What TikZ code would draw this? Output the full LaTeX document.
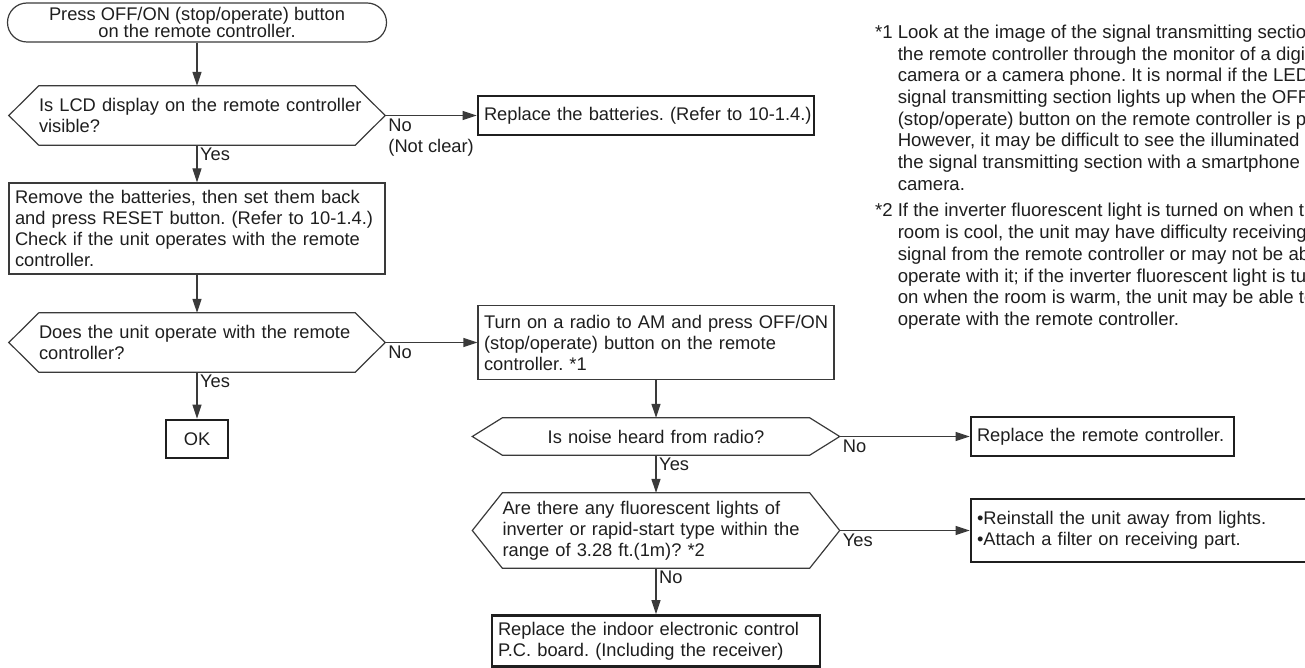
\documentclass[tikz,border=0pt]{standalone}
\usepackage{fontspec}
\setmainfont{Liberation Sans}
\usetikzlibrary{arrows.meta,calc}
\definecolor{lc}{HTML}{3A3A3A}
\definecolor{tc}{HTML}{1E1E1E}
\newcommand\oneline[1]{\mbox{#1}}
\begin{document}
\frenchspacing
\begin{tikzpicture}[x=1pt,y=-1pt,
  every node/.style={text=tc, font=\frenchspacing\fontsize{18.3}{21}\selectfont},
  thinbox/.style={draw=lc, line width=1.2pt, rectangle, inner xsep=6pt, inner ysep=0pt, align=left},
  thickbox/.style={draw=black!88, line width=2.6pt, rectangle, inner xsep=6pt, inner ysep=0pt, align=left},
  hexnode/.style={draw=none, rectangle, inner sep=0pt},
  hexline/.style={draw=lc, line width=1.2pt, line join=miter},
  arr/.style={draw=lc, line width=1.2pt, -{Triangle[length=14pt,width=9pt]}},
  lab/.style={anchor=north west, inner sep=0pt, align=left},
]
\useasboundingbox (0,0) rectangle (1305,668);
\clip (0,0) rectangle (1305,668);

% start terminal
\node[thinbox, rounded corners=19.5pt, minimum width=379pt, minimum height=39pt, align=center,
      font=\frenchspacing\fontsize{18.3}{17.5}\selectfont] (T) at (197,22.5)
  {Press OFF/ON (stop/operate) button\\on the remote controller.};

% decision 1
\node[hexnode, minimum width=316pt, minimum height=59pt, text width=316pt, align=left] (d1) at (197,115.5)
  {\oneline{Is LCD display on the remote controller}\\\oneline{visible?}};
\draw[hexline] (d1.north west) -- (d1.north east) -- ($(d1.east)+(30,0)$) coordinate (d1R)
  -- (d1.south east) -- (d1.south west) -- ($(d1.west)+(-30,0)$) -- cycle;

\node[thickbox, minimum height=39pt, text width=324pt] (B1) at (646,115.5)
  {\oneline{Replace the batteries. (Refer to 10-1.4.)}};

\node[thinbox, minimum height=91pt, text width=364pt] (B2) at (197,228.5)
  {\oneline{Remove the batteries, then set them back}\\\oneline{and press RESET button. (Refer to 10-1.4.)}\\\oneline{Check if the unit operates with the remote}\\\oneline{controller.}};

% decision 2
\node[hexnode, minimum width=316pt, minimum height=59pt, text width=316pt, align=left] (d2) at (197,342.5)
  {\oneline{Does the unit operate with the remote}\\\oneline{controller?}};
\draw[hexline] (d2.north west) -- (d2.north east) -- ($(d2.east)+(30,0)$) coordinate (d2R)
  -- (d2.south east) -- (d2.south west) -- ($(d2.west)+(-30,0)$) -- cycle;

\node[thickbox, align=center, minimum width=62pt, minimum height=38pt] (OK) at (197,439) {OK};

\node[thinbox, minimum height=74pt, text width=344pt] (B3) at (656,342.5)
  {\oneline{Turn on a radio to AM and press OFF/ON}\\\oneline{(stop/operate) button on the remote}\\\oneline{controller. *1}};

% decision 3
\node[hexnode, minimum width=307pt, minimum height=37pt, text width=307pt, align=center] (d3) at (656,436.5)
  {Is noise heard from radio?};
\draw[hexline] (d3.north west) -- (d3.north east) -- ($(d3.east)+(30,0)$) coordinate (d3R)
  -- (d3.south east) -- (d3.south west) -- ($(d3.west)+(-30,0)$) -- cycle;

\node[thickbox, minimum height=39pt, text width=251pt] (B4) at (1102.5,436.5)
  {\oneline{Replace the remote controller.}};

% decision 4
\node[hexnode, minimum width=307pt, minimum height=75pt, text width=307pt, align=left] (d4) at (656,530.5)
  {\oneline{Are there any fluorescent lights of}\\\oneline{inverter or rapid-start type within the}\\\oneline{range of 3.28 ft.(1m)? *2}};
\draw[hexline] (d4.north west) -- (d4.north east) -- ($(d4.east)+(30,0)$) coordinate (d4R)
  -- (d4.south east) -- (d4.south west) -- ($(d4.west)+(-30,0)$) -- cycle;

\node[thickbox, minimum height=63pt, text width=337pt] (B5) at (1145.5,530.5)
  {\oneline{•Reinstall the unit away from lights.}\\\oneline{•Attach a filter on receiving part.}};

\node[thickbox, minimum height=51pt, text width=316pt] (B6) at (656,641)
  {\oneline{Replace the indoor electronic control}\\\oneline{P.C. board. (Including the receiver)}};

% connectors
\draw[arr] (T.south) -- (d1.north);
\draw[arr] (d1R) -- (B1.west);
\draw[arr] (d1.south) -- (B2.north);
\draw[arr] (B2.south) -- (d2.north);
\draw[arr] (d2R) -- (B3.west);
\draw[arr] (d2.south) -- (OK.north);
\draw[arr] (B3.south) -- (d3.north);
\draw[arr] (d3R) -- (B4.west);
\draw[arr] (d3.south) -- (d4.north);
\draw[arr] (d4R) -- (B5.west);
\draw[arr] (d4.south) -- (B6.north);

% labels
\node[lab] (l1) at ($(d1R)+(3,3)$) {No\\(Not clear)};
\node[lab] (l2) at ($(d1.south)+(3,3)$) {Yes};
\node[lab] (l3) at ($(d2R)+(3,3)$) {No};
\node[lab] (l4) at ($(d2.south)+(3,3)$) {Yes};
\node[lab] (l5) at ($(d3R)+(3,3)$) {No};
\node[lab] (l6) at ($(d3.south)+(3,3)$) {Yes};
\node[lab] (l7) at ($(d4R)+(3,3)$) {Yes};
\node[lab] (l8) at ($(d4.south)+(3,3)$) {No};

% notes
\node[anchor=north west, inner sep=0pt, font=\frenchspacing\fontsize{18.6}{21.7}\selectfont] (notes) at (875,23) {%
\begin{tabular}{@{}l@{\hspace{5pt}}l@{}}
*1 & Look at the image of the signal transmitting section\\
   & the remote controller through the monitor of a digital\\
   & camera or a camera phone. It is normal if the LED\\
   & signal transmitting section lights up when the OFF/ON\\
   & (stop/operate) button on the remote controller is pressed.\\
   & However, it may be difficult to see the illuminated\\
   & the signal transmitting section with a smartphone\\
   & camera.\\[5pt]
*2 & If the inverter fluorescent light is turned on when the\\
   & room is cool, the unit may have difficulty receiving\\
   & signal from the remote controller or may not be able\\
   & operate with it; if the inverter fluorescent light is turned\\
   & on when the room is warm, the unit may be able to\\
   & operate with the remote controller.
\end{tabular}};
\end{tikzpicture}
\end{document}
